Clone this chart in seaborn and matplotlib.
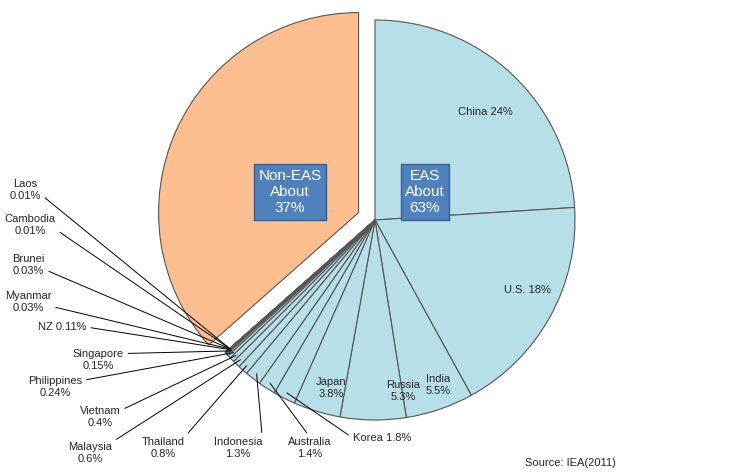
import numpy as np
import matplotlib
matplotlib.use("Agg")
import matplotlib.pyplot as plt
import seaborn as sns

sns.set_style("white")
plt.rcParams["font.family"] = "Liberation Sans"

countries = ["China", "U.S.", "India", "Russia", "Japan", "Korea", "Australia", "Indonesia",
             "Thailand", "Malaysia", "Vietnam", "Philippines", "Singapore", "NZ", "Myanmar",
             "Brunei", "Cambodia", "Laos"]
shares = [24, 18, 5.5, 5.3, 3.8, 1.8, 1.4, 1.3, 0.8, 0.6, 0.4, 0.24, 0.15, 0.11, 0.03, 0.03, 0.01, 0.01]
pct_labels = ["24%", "18%", "5.5%", "5.3%", "3.8%", "1.8%", "1.4%", "1.3%", "0.8%", "0.6%",
              "0.4%", "0.24%", "0.15%", "0.11%", "0.03%", "0.03%", "0.01%", "0.01%"]
non_eas = 100 - sum(shares)

blue = "#b7dfe8"
orange = "#fdbf8f"
box = "#4f81bd"

fig = plt.figure(figsize=(7.5, 4.76), dpi=100)
ax = fig.add_axes([175/750, (476-420)/476, 400/750, 400/476])
vals = shares + [non_eas]
cols = [blue]*len(shares) + [orange]
explode = [0]*len(shares) + [0.09]
wedges, _ = ax.pie(vals, colors=cols, explode=explode, startangle=90, counterclock=False,
                   wedgeprops=dict(edgecolor="#555555", linewidth=0.8))
ax.set_xlim(-1, 1); ax.set_ylim(-1, 1); ax.set_aspect("equal")

def d(px, py):
    return ((px-375)/200, (220-py)/200)

fs = 8
inside = {0: ("China 24%", 485, 112), 1: ("U.S. 18%", 527, 290), 2: ("India\n5.5%", 438, 385),
          3: ("Russia\n5.3%", 403, 391), 4: ("Japan\n3.8%", 331, 388)}
for i, (t, px, py) in inside.items():
    ax.text(*d(px, py), t, ha="center", va="center", fontsize=fs)

outside = {5: ("Korea 1.8%", 382, 438, (0, 0.5)), 6: ("Australia\n1.4%", 310, 448, (0.5, 1)),
           7: ("Indonesia\n1.3%", 238, 448, (1, 1)), 8: ("Thailand\n0.8%", 163, 448, (1, 1)),
           9: ("Malaysia\n0.6%", 90, 453, (1, 1)), 10: ("Vietnam\n0.4%", 100, 417, (1, 0.8)),
           11: ("Philippines\n0.24%", 55, 387, (1, 0.8)), 12: ("Singapore\n0.15%", 98, 360, (1, 0.8)),
           13: ("NZ 0.11%", 62, 327, (1, 0.5)), 14: ("Myanmar\n0.03%", 28, 302, (1, 0.3)),
           15: ("Brunei\n0.03%", 28, 265, (1, 0.3)), 16: ("Cambodia\n0.01%", 30, 225, (1, 0.3)),
           17: ("Laos\n0.01%", 25, 190, (1, 0.3))}
for i, (t, px, py, rp) in outside.items():
    w = wedges[i]
    th = np.deg2rad((w.theta1 + w.theta2)/2)
    xy = (0.97*np.cos(th), 0.97*np.sin(th))
    ax.annotate(t, xy=xy, xytext=d(px, py), ha="center", va="center", fontsize=fs,
                annotation_clip=False,
                arrowprops=dict(arrowstyle="-", color="black", lw=0.7, shrinkA=1, shrinkB=0,
                                relpos=rp))

ax.text(*d(290, 192), "Non-EAS\nAbout\n37%", ha="center", va="center", fontsize=11, color="white",
        bbox=dict(boxstyle="square,pad=0.3", fc=box, ec="#385d8a"))
ax.text(*d(425, 192), "EAS\nAbout\n63%", ha="center", va="center", fontsize=11, color="white",
        bbox=dict(boxstyle="square,pad=0.3", fc=box, ec="#385d8a"))
fig.text(525/750, 1-463/476, "Source: IEA(2011)", fontsize=8, va="center")
fig.savefig("out.png", dpi=100)
